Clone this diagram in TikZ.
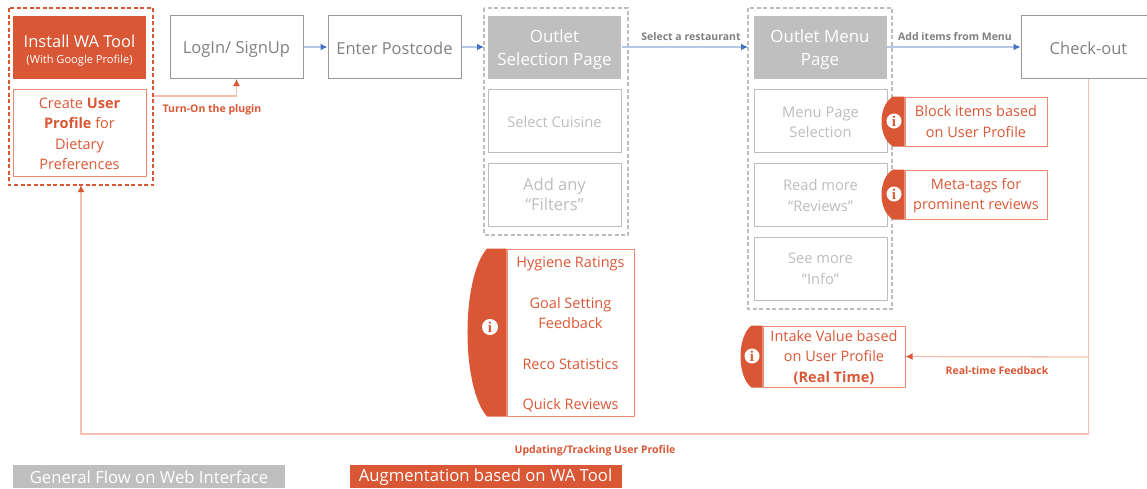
\documentclass[tikz,border=0pt]{standalone}
\usepackage{fontspec}
\setmainfont{Open Sans}
\newfontfamily\infofont{Liberation Serif}
\usetikzlibrary{arrows.meta}

\definecolor{waorange}{HTML}{D95735}
\definecolor{waline}{HTML}{EA8A70}
\definecolor{walight}{HTML}{F6BFAF}
\definecolor{flowgrey}{HTML}{808080}
\definecolor{fadegrey}{HTML}{BDBDBD}
\definecolor{fillgrey}{HTML}{BFBFBF}
\definecolor{flowblue}{HTML}{B4C7E7}
\definecolor{tipblue}{HTML}{4472C4}

\newcommand{\lift}[1][16pt]{\rule{0pt}{#1}}

\tikzset{
  flowbox/.style={align=center, font=\fontsize{16.5}{23}\selectfont, draw=flowgrey!80, line width=1pt, text=flowgrey, minimum width=133, minimum height=63},
  fadebox/.style={flowbox, draw=fadegrey, text=fadegrey, font=\fontsize{14.7}{20.5}\selectfont},
  greybox/.style={flowbox, draw=none, fill=fillgrey, text=white, font=\fontsize{16.9}{23}\selectfont},
  redbox/.style={flowbox, draw=none, fill=waorange, text=white},
  notebox/.style={align=center, inner sep=0pt, draw=waline, line width=1pt, text=waorange, font=\fontsize{14.5}{20.3}\selectfont},
  dashline/.style={draw=#1, line width=1.3pt, dash pattern=on 4pt off 2.5pt},
  smalllabel/.style={font=\fontsize{10.5}{12}\bfseries\selectfont},
  blueline/.style={draw=flowblue, line width=1.3pt, -{Latex[length=7pt,width=7pt,color=tipblue]}},
  redline/.style={draw=walight, line width=1.3pt, -{Latex[length=7pt,width=7pt,color=waorange]}},
  infodot/.style={circle, fill=white, text=waorange, inner sep=0pt, minimum size=#1, font=\infofont\fontsize{15}{15}\bfseries\selectfont},
  legend/.style={font=\fontsize{16.7}{18}\selectfont, text=white, minimum width=272, minimum height=23, inner sep=0pt}
}

% rounded tab left of a note box: name of the box, width, corner drop
\newcommand{\infotab}[3]{
  \fill[waorange] (#1.north west) -- (#1.south west) -- ([xshift=-0.5*#2 pt]#1.south west)
    .. controls ([xshift=-1.167*#2 pt, yshift=#3 pt]#1.south west) and ([xshift=-1.167*#2 pt, yshift=-#3 pt]#1.north west) .. ([xshift=-0.5*#2 pt]#1.north west) -- cycle;
}

\begin{document}
\begin{tikzpicture}[x=1pt,y=-1pt]

\useasboundingbox (0,0) rectangle (1147,488);

% dashed frames
\draw[dashline=fadegrey] (484,8) rectangle (628,235);
\draw[dashline=fadegrey] (748,8) rectangle (892,309);
\coordinate (selectedge) at (484,47);
\coordinate (menuedge) at (748,47);
\coordinate (profilebottom) at (81,185);

% general flow
\node[redbox] (install) at (79.5,47.5) {\lift[18pt]Install WA Tool\\[-7pt]{\fontsize{11.1}{14}\selectfont (With Google Profile)}};
\node[notebox, minimum width=133, minimum height=87] (profile) at (79.5,132.5) {\lift[13pt]Create \textbf{User}\\\textbf{Profile} for\\Dietary\\Preferences};
\node[flowbox] (login) at (236.5,47) {\lift LogIn/ SignUp};
\node[flowbox] (postcode) at (394.5,47) {\lift Enter Postcode};

\node[greybox] (selectpage) at (554.5,47) {\lift[18.5pt]Outlet\\Selection Page};
\node[fadebox] (cuisine) at (554.5,121) {\lift[13pt]Select Cuisine};
\node[fadebox, font=\fontsize{16.5}{20.5}\selectfont] (filters) at (554.5,194.5) {Add any\\“Filters”};

\node[greybox] (menupage) at (820,47) {\lift[18.5pt]Outlet Menu\\Page};
\node[fadebox] (menuselect) at (820.5,121) {\lift[13pt]Menu Page\\Selection};
\node[fadebox] (reviews) at (820.5,194.5) {\lift[13pt]Read more\\“Reviews”};
\node[fadebox] (info) at (820.5,268.5) {See more\\“Info”};

\node[flowbox, minimum width=135] (checkout) at (1088.5,47) {\lift Check-out};

% augmentation notes
\node[notebox, minimum width=127, minimum height=167] (ratings) at (570.5,332.5) {\lift[15pt]Hygiene Ratings\\[20.3pt]Goal Setting\\Feedback\\[20.3pt]Reco Statistics\\[20.3pt]Quick Reviews};
\node[notebox, minimum width=142, minimum height=49] (block) at (976,121.5) {Block items based\\on User Profile};
\node[notebox, minimum width=142, minimum height=49] (metatags) at (976,194.5) {\lift[13pt]Meta-tags for\\prominent reviews};
\node[notebox, minimum width=142, minimum height=61] (intake) at (834,356.5) {\lift[13pt]Intake Value based\\on User Profile\\\textbf{(Real Time)}};

\infotab{ratings}{39}{30}
\infotab{block}{23}{9}
\infotab{metatags}{23}{9}
\infotab{intake}{22}{11}

\node[infodot=16] (ratingsdot) at (490,327) {i};
\node[infodot=15] (blockdot) at (894,121) {i};
\node[infodot=15] (metadot) at (894,194) {i};
\node[infodot=15] (intakedot) at (752,356) {i};

% connectors
\coordinate (pluginstart) at (153,96);
\coordinate (feedbackturn) at (1088,357);
\coordinate (trackturn) at (1088,434);

\draw[blueline] (login) -- (postcode);
\draw[blueline] (postcode.east) -- (selectedge);
\draw[blueline] (selectpage.east) -- (menuedge);
\draw[blueline] (menupage.east) -- (checkout.west);

\draw[redline] (pluginstart) -| (login.south);
\draw[redline] (checkout.south) |- (profilebottom |- trackturn) -- (profilebottom);
\draw[redline] (feedbackturn) -- (intake.east);

\node[smalllabel, text=flowgrey] (restaurantlabel) at (691,36.5) {Select a restaurant};
\node[smalllabel, text=flowgrey] (itemslabel) at (955,36.5) {Add items from Menu};
\node[smalllabel, text=waorange] (pluginlabel) at (212,110) {Turn-On the plugin};
\node[smalllabel, text=waorange] (feedbacklabel) at (997,370.5) {Real-time Feedback};
\node[smalllabel, text=waorange] (trackinglabel) at (595,451) {Updating/Tracking User Profile};

% legend
\node[legend, fill=fillgrey] (flowlegend) at (149,476) {\lift[15pt]General Flow on Web Interface};
\node[legend, fill=waorange] (toollegend) at (485.5,476) {\lift[15pt]Augmentation based on WA Tool};

% profile frame last
\draw[dashline=waorange] (9,8) rectangle (153,185);

\end{tikzpicture}
\end{document}
